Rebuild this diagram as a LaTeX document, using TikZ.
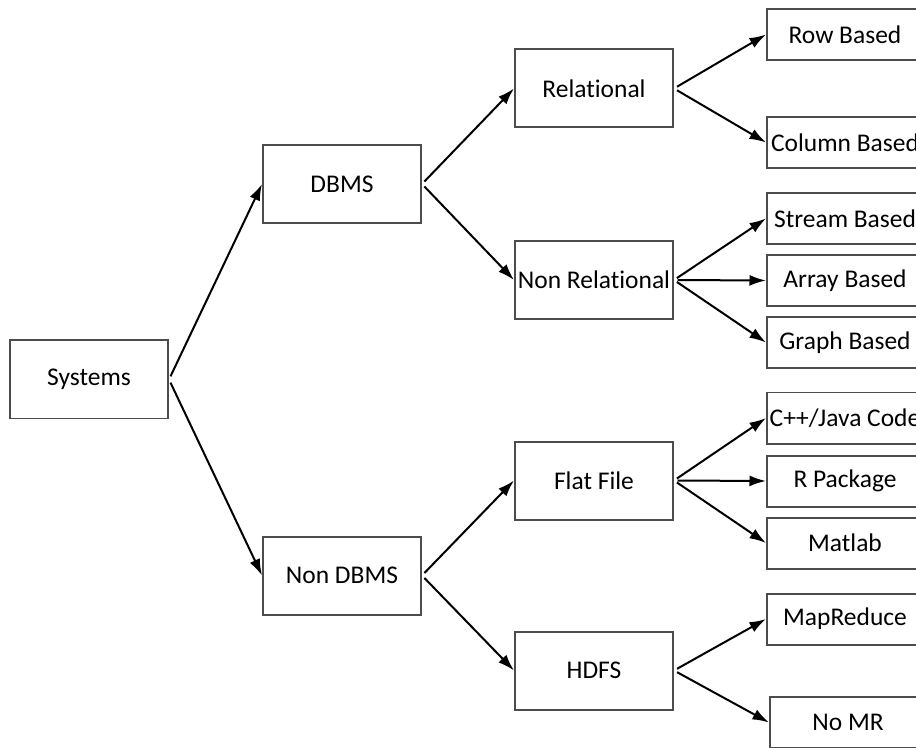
\documentclass[tikz,border=0pt]{standalone}
\usepackage{fontspec}
\setmainfont{Carlito}[Ligatures={NoCommon,NoContextual}, RawFeature={-liga;-clig;-calt}]
\usetikzlibrary{arrows.meta}

\begin{document}
\begin{tikzpicture}[
		bigbox/.style={draw=black!70, line width=0.04cm, minimum width=3.16cm, minimum height=1.56cm, inner sep=0pt, font=\fontsize{14.5}{17}\selectfont},
		smallbox/.style={bigbox, minimum width=3.12cm, minimum height=1.02cm},
		link/.style={line width=0.04cm, -{Latex[length=0.33cm, width=0.22cm]}, shorten <=0.07cm}
	]
			%%%%% START %%%%%
			
			\useasboundingbox (0, 0) rectangle (18.32, 14.94);
			
			\node[bigbox] (systems) at (1.78, 7.35) {Systems};
			
			\node[bigbox] (dbms) at (6.84, 11.26) {DBMS};
			\node[bigbox] (nondbms) at (6.84, 3.43) {Non DBMS};
			
			\node[bigbox] (relational) at (11.88, 13.17) {Relational};
			\node[bigbox] (nonrelational) at (11.88, 9.34) {Non Relational};
			\node[bigbox] (flatfile) at (11.88, 5.33) {Flat File};
			\node[bigbox] (hdfs) at (11.88, 1.53) {HDFS};
			
			\node[smallbox] (rowbased) at (16.9, 14.25) {Row Based};
			\node[smallbox] (columnbased) at (16.9, 12.09) {Column Based};
			\node[smallbox] (streambased) at (16.9, 10.57) {Stream Based};
			\node[smallbox] (arraybased) at (16.9, 9.33) {Array Based};
			\node[smallbox] (graphbased) at (16.9, 8.09) {Graph Based};
			\node[smallbox] (javacode) at (16.9, 6.58) {C++/Java Code};
			\node[smallbox] (rpackage) at (16.9, 5.32) {R Package};
			\node[smallbox] (matlab) at (16.9, 4.08) {Matlab};
			\node[smallbox] (mapreduce) at (16.9, 2.56) {MapReduce};
			\node[smallbox] (nomr) at (16.96, 0.49) {No MR};
			
			\draw[link] (systems.east) -- (dbms.west);
			\draw[link] (systems.east) -- (nondbms.west);
			
			\draw[link] (dbms.east) -- (relational.west);
			\draw[link] (dbms.east) -- (nonrelational.west);
			\draw[link] (nondbms.east) -- (flatfile.west);
			\draw[link] (nondbms.east) -- (hdfs.west);
			
			\draw[link] (relational.east) -- (rowbased.west);
			\draw[link] (relational.east) -- (columnbased.west);
			
			\draw[link] (nonrelational.east) -- (streambased.west);
			\draw[link] (nonrelational.east) -- (arraybased.west);
			\draw[link] (nonrelational.east) -- (graphbased.west);
			
			\draw[link] (flatfile.east) -- (javacode.west);
			\draw[link] (flatfile.east) -- (rpackage.west);
			\draw[link] (flatfile.east) -- (matlab.west);
			
			\draw[link] (hdfs.east) -- (mapreduce.west);
			\draw[link] (hdfs.east) -- (nomr.west);
			
			%%%%% END %%%%%
		\end{tikzpicture}
\end{document}
